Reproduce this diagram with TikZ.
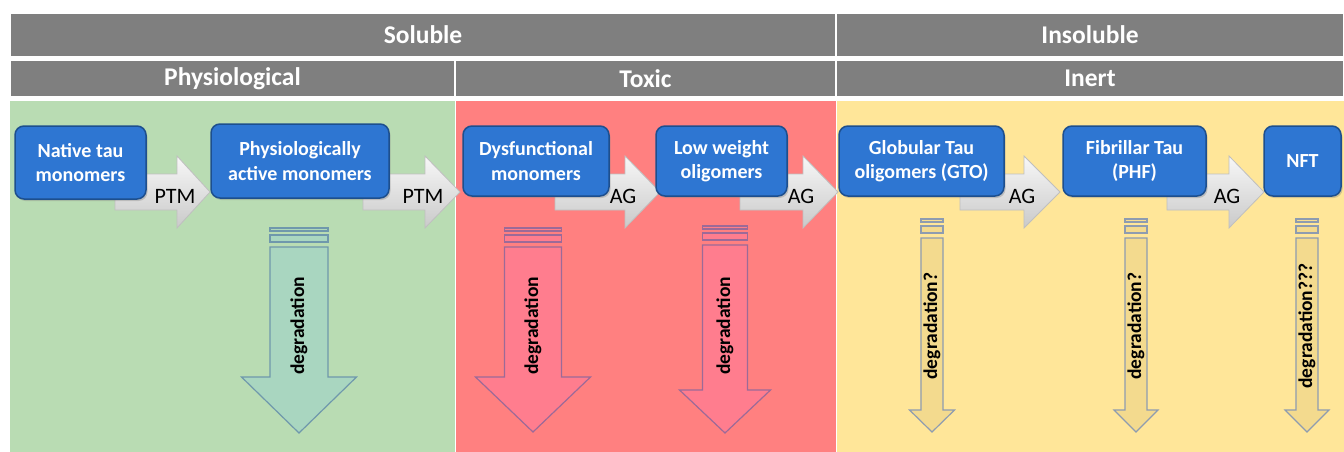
\documentclass[tikz,border=0pt]{standalone}
\usepackage{fontspec}
\setmainfont{Carlito}
\usetikzlibrary{shadows}
\definecolor{hdrgray}{HTML}{7F7F7F}
\definecolor{physgreen}{HTML}{B9DCB3}
\definecolor{toxred}{HTML}{FF8080}
\definecolor{inertyellow}{HTML}{FFE699}
\definecolor{boxblue}{HTML}{2E76D2}
\definecolor{boxedge}{HTML}{1D4F8E}
\definecolor{deggreen}{HTML}{A9D6C0}
\definecolor{deggreenedge}{HTML}{6F98AC}
\definecolor{degred}{HTML}{FF7D8E}
\definecolor{degrededge}{HTML}{9C6A98}
\definecolor{degyellow}{HTML}{F3DA8E}
\definecolor{degyellowedge}{HTML}{8E9CB0}
\tikzset{
    tau/.style ={
        rectangle,
        rounded corners =9pt,
        inner sep=2pt,
        fill=boxblue,
        draw=boxedge,
        line width=1.5pt,
        text=white,
        align=center,
        drop shadow={shadow xshift=1.5pt, shadow yshift=-2pt, opacity=0.35},
        font=\fontsize{20}{24.5}\selectfont\bfseries
    },
    band/.style ={
        rectangle,
        inner sep=0pt,
        fill=hdrgray,
        draw=white,
        line width=1.5pt,
        text=white,
        font=\fontsize{25.5}{30}\selectfont\bfseries
    },
    ptm/.style ={top color=gray!6, bottom color=gray!42, draw=gray!50, line width=0.8pt},
    steplbl/.style ={inner sep=0pt, font=\fontsize{22}{26}\selectfont},
    degr/.style ={rotate=90, inner sep=0pt, font=\fontsize{19.5}{22}\selectfont\bfseries},
    greendeg/.style ={fill=deggreen, draw=deggreenedge, line width=1.2pt},
    reddeg/.style ={fill=degred, draw=degrededge, line width=1.2pt},
    yellowdeg/.style ={fill=degyellow, draw=degyellowedge, line width=1.2pt}
}
% gray step arrow: shaft start, head base, tip, name, label
\newcommand{\grayarrow}[5]{%
    \path[ptm] (#1,174) -- (#2,174) -- (#2,156) -- (#3,192) -- (#2,228) -- (#2,210) -- (#1,210) -- cycle;
    \node[steplbl] (#4) at (#2-2,196) {#5};
}
% degradation arrow: centre, half shaft, half head, top, head base, tip, style, name, label
\newcommand{\degarrow}[9]{%
    \path[#7, fill opacity=0.6] (#1-#2,#4-19) rectangle (#1+#2,#4-16);
    \path[#7] (#1-#2,#4-12) rectangle (#1+#2,#4-5);
    \path[#7] (#1-#2,#4) -- (#1+#2,#4) -- (#1+#2,#5) -- (#1+#3,#5) -- (#1,#6) -- (#1-#3,#5) -- (#1-#2,#5) -- cycle;
    \node[degr] (#8) at (#1,326) {#9};
}

\begin{document}
\begin{tikzpicture}[x=1pt,y=-1pt]
    \useasboundingbox (0,0) rectangle (1344,452);
    \fill[white] (0,0) rectangle (1344,452);

    % panels
    \fill[physgreen] (10,101) rectangle (455,452);
    \fill[toxred] (456,101) rectangle (836,452);
    \fill[inertyellow] (837,101) rectangle (1344,452);

    % headers
    \node[band, minimum width=826pt, minimum height=44pt] (SOLUBLE) at (423,35) {Soluble};
    \node[band, minimum width=508pt, minimum height=44pt] (INSOLUBLE) at (1090,35) {Insoluble};
    \node[band, minimum width=445pt, minimum height=37pt] (PHYSIO) at (232.5,78.5) {Physiological};
    \node[band, minimum width=381pt, minimum height=37pt] (TOXIC) at (645.5,78.5) {Toxic};
    \node[band, minimum width=508pt, minimum height=37pt] (INERT) at (1090,78.5) {Inert};

    % step arrows
    \grayarrow{115}{177}{210}{PTMA}{PTM}
    \grayarrow{363}{425}{460}{PTMB}{PTM}
    \grayarrow{555}{625}{660}{AGA}{AG}
    \grayarrow{740}{803}{838}{AGB}{AG}
    \grayarrow{960}{1024}{1060}{AGC}{AG}
    \grayarrow{1167}{1229}{1264}{AGD}{AG}

    % tau species
    \node[tau, minimum width=131pt, minimum height=73pt] (NATIVE) at (80.5,162.5) {Native tau\\monomers};
    \node[tau, minimum width=178pt, minimum height=74pt] (ACTIVE) at (300,161) {Physiologically\\active monomers};
    \node[tau, minimum width=146pt, minimum height=70pt] (DYSF) at (536,161) {Dysfunctional\\monomers};
    \node[tau, minimum width=131pt, minimum height=70pt] (LOWW) at (721.5,161) {Low weight\\oligomers};
    \node[tau, minimum width=165pt, minimum height=70pt] (GTO) at (921.5,161) {Globular Tau\\oligomers (GTO)};
    \node[tau, minimum width=143pt, minimum height=70pt] (PHF) at (1134.5,161) {Fibrillar Tau\\(PHF)};
    \node[tau, minimum width=77pt, minimum height=70pt] (NFT) at (1302.5,161) {NFT};

    % degradation
    \degarrow{299}{29}{57.5}{247}{377}{433}{greendeg}{DEGA}{degradation}
    \degarrow{533}{28.5}{57.5}{247}{377}{432}{reddeg}{DEGB}{degradation}
    \degarrow{725}{22.5}{45.5}{245}{390}{433}{reddeg}{DEGC}{degradation}
    \degarrow{932}{11}{22.5}{238}{410}{432}{yellowdeg}{DEGD}{degradation?}
    \degarrow{1136}{11}{22}{238}{410}{432}{yellowdeg}{DEGE}{degradation?}
    \degarrow{1307}{11}{22}{238}{410}{432}{yellowdeg}{DEGF}{degradation???}
\end{tikzpicture}
\end{document}
